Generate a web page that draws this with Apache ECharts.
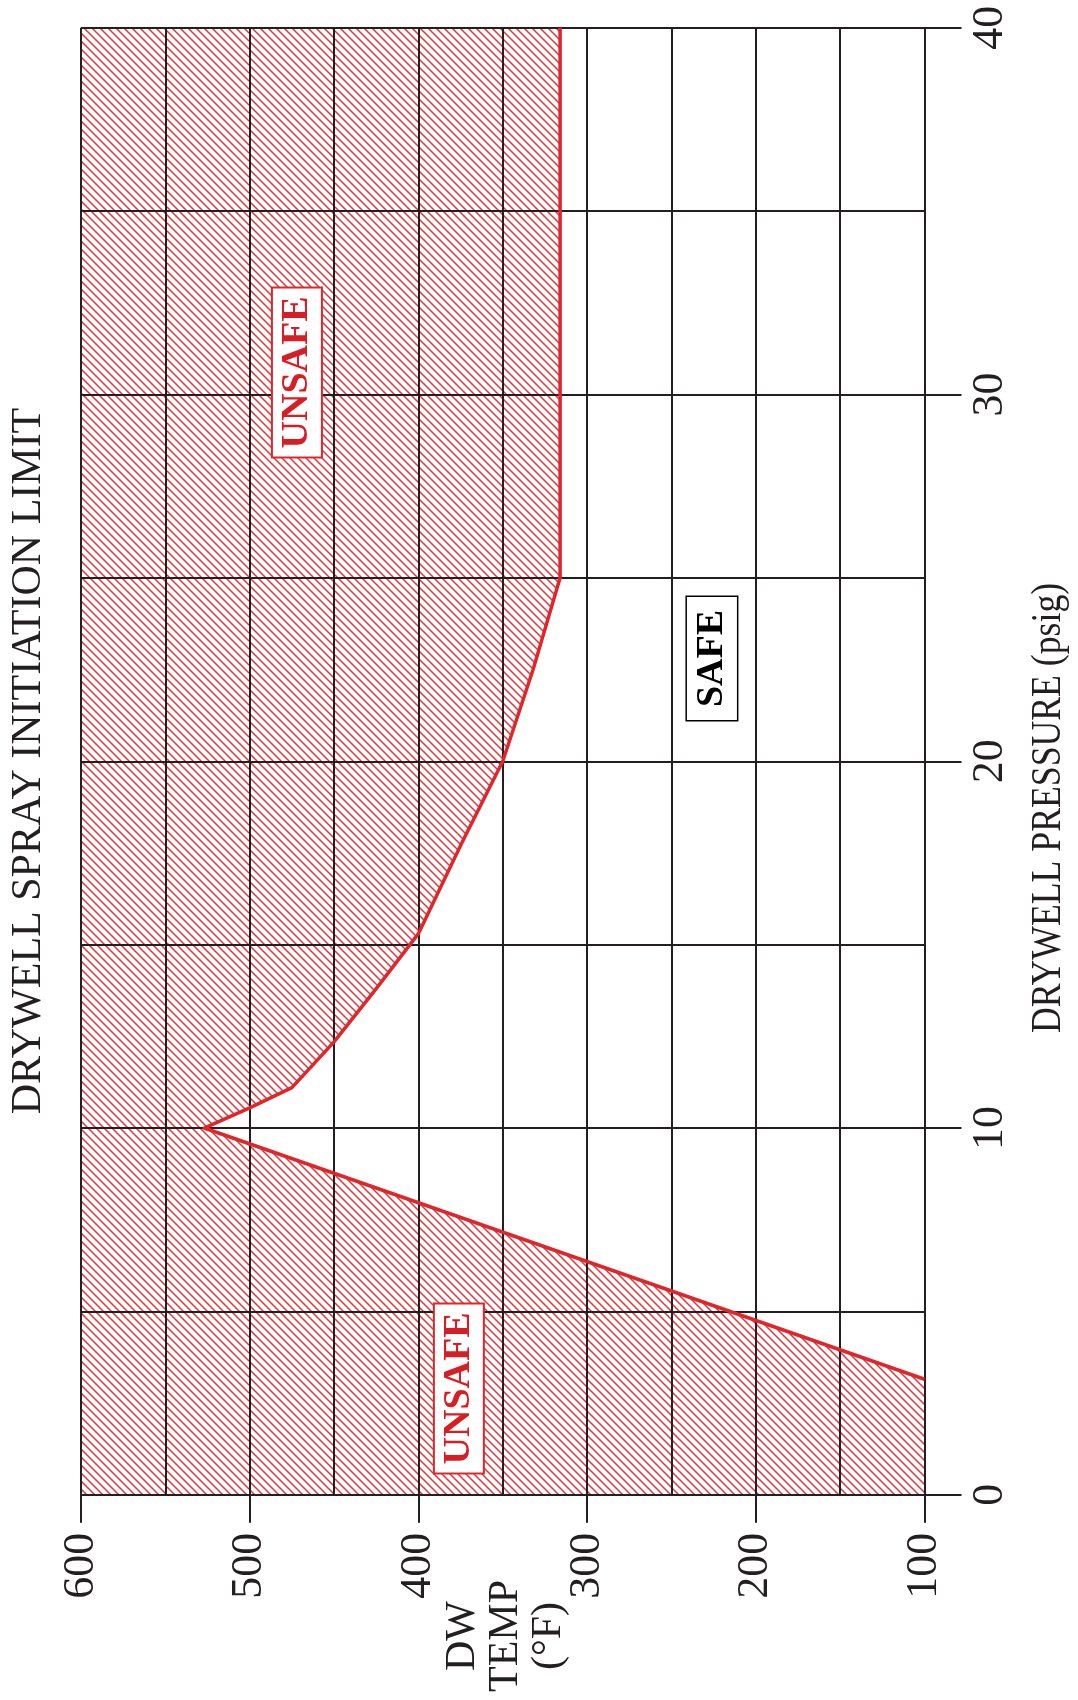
<!DOCTYPE html>
<html><head><meta charset="utf-8">
<script src="https://cdn.jsdelivr.net/npm/echarts@6/dist/echarts.min.js"></script>
<style>html,body{margin:0;padding:0;background:#fff}#c{width:1078px;height:1700px}</style>
</head><body><div id="c"></div>
<script>
// Drywell spray initiation limit curve (temperature in °F, pressure in psig)
const limitTemp  = [100, 527, 500, 475, 465, 450, 425, 400, 374, 350, 332, 316, 316];
const limitPress = [3.15, 10, 10.55, 11.1, 11.6, 12.35, 13.8, 15.3, 17.8, 20, 22.5, 25, 40];

// Axis ranges
const tempMin = 100, tempMax = 600, tempStep = 100;
const pressMin = 0, pressMax = 40, pressStep = 10;

// Region annotations
const noteText  = ['UNSAFE', 'UNSAFE', 'SAFE'];
const noteTemp  = [472, 376, 226];
const notePress = [30.6, 2.9, 22.8];

const RED = '#e0262a', INK = '#231f20';
const FONT = '"Liberation Serif","Times New Roman",Times,serif';

function makeHatch() {
  const s = 8;
  const c = document.createElement('canvas');
  c.width = s; c.height = s;
  const g = c.getContext('2d');
  g.strokeStyle = '#e4343a'; g.lineWidth = 1.5;
  g.beginPath();
  for (const k of [-s, 0, s]) { g.moveTo(k - 1, -1); g.lineTo(k + s + 1, s + 1); }
  g.stroke();
  return c;
}
const hatch = makeHatch();

const boundary = limitTemp.map((t, i) => [t, limitPress[i]]);
const unsafePoly = [[tempMax, pressMin], [tempMin, pressMin]].concat(boundary, [[tempMax, pressMax]]);

const chart = echarts.init(document.getElementById('c'));

const axisCommon = {
  type: 'value',
  axisLine: { show: true, onZero: false, lineStyle: { color: INK, width: 2 } },
  splitLine: { show: true, lineStyle: { color: INK, width: 2 } },
  minorTick: { show: false, splitNumber: 2 },
  minorSplitLine: { show: true, lineStyle: { color: INK, width: 2 } },
  z: 3
};

chart.setOption({
  animation: false,
  backgroundColor: '#fff',
  grid: { left: 81, right: 153.5, top: 27.7, bottom: 205.2, containLabel: false, outerBoundsMode: 'none' },
  xAxis: Object.assign({}, axisCommon, {
    min: tempMin, max: tempMax, interval: tempStep, inverse: true, position: 'bottom',
    axisTick: { show: true, length: 28, lineStyle: { color: INK, width: 2 } },
    axisLabel: { rotate: 90, margin: 38, fontSize: 44, fontFamily: FONT, color: INK }
  }),
  yAxis: Object.assign({}, axisCommon, {
    min: pressMin, max: pressMax, interval: pressStep, position: 'right',
    axisTick: { show: true, length: 37, lineStyle: { color: INK, width: 2 } },
    axisLabel: { rotate: 90, margin: 44, fontSize: 44, fontFamily: FONT, color: INK }
  }),
  graphic: [
    { type: 'text', x: 29, y: 761, rotation: Math.PI / 2, silent: true,
      style: { text: 'DRYWELL SPRAY INITIATION LIMIT', font: '42px ' + FONT, fill: INK,
               align: 'center', verticalAlign: 'middle', textAlign: 'center', textVerticalAlign: 'middle' } },
    { type: 'text', x: 1049, y: 808, rotation: Math.PI / 2, scaleX: 0.85, silent: true,
      style: { text: 'DRYWELL PRESSURE (psig)', font: '42px ' + FONT, fill: INK,
               align: 'center', verticalAlign: 'middle', textAlign: 'center', textVerticalAlign: 'middle' } },
    { type: 'text', x: 506, y: 1636, rotation: Math.PI / 2, silent: true,
      style: { text: 'DW\nTEMP\n(°F)', font: '42px ' + FONT, fill: INK, lineHeight: 43,
               align: 'center', verticalAlign: 'middle', textAlign: 'center', textVerticalAlign: 'middle' } }
  ],
  series: [
    {
      type: 'custom', z: 2, silent: true, data: [[tempMin, pressMin]],
      renderItem: function (params, api) {
        return { type: 'polygon', shape: { points: unsafePoly.map(p => api.coord(p)) },
                 style: { fill: { image: hatch, repeat: 'repeat' }, stroke: null } };
      }
    },
    {
      type: 'line', z: 4, silent: true, data: boundary, showSymbol: false, symbol: 'none',
      lineStyle: { color: RED, width: 3.5, join: 'round' }
    },
    {
      type: 'scatter', z: 5, silent: true, symbolSize: 1,
      itemStyle: { color: 'rgba(0,0,0,0)', opacity: 1 },
      data: noteText.map((txt, i) => {
        const safe = txt === 'SAFE';
        return {
          value: [noteTemp[i], notePress[i]],
          itemStyle: { opacity: 1 },
          label: {
            show: true, position: 'inside', rotate: 90, formatter: txt, opacity: 1,
            fontFamily: FONT, fontWeight: 'bold', fontSize: 38,
            color: safe ? '#000' : '#d81e24', backgroundColor: '#fff',
            borderColor: safe ? '#000' : RED, borderWidth: safe ? 1.5 : 2,
            padding: safe ? [6, 13, 6, 13] : [5, 8, 5, 8]
          }
        };
      })
    }
  ]
});
</script>
</body></html>
